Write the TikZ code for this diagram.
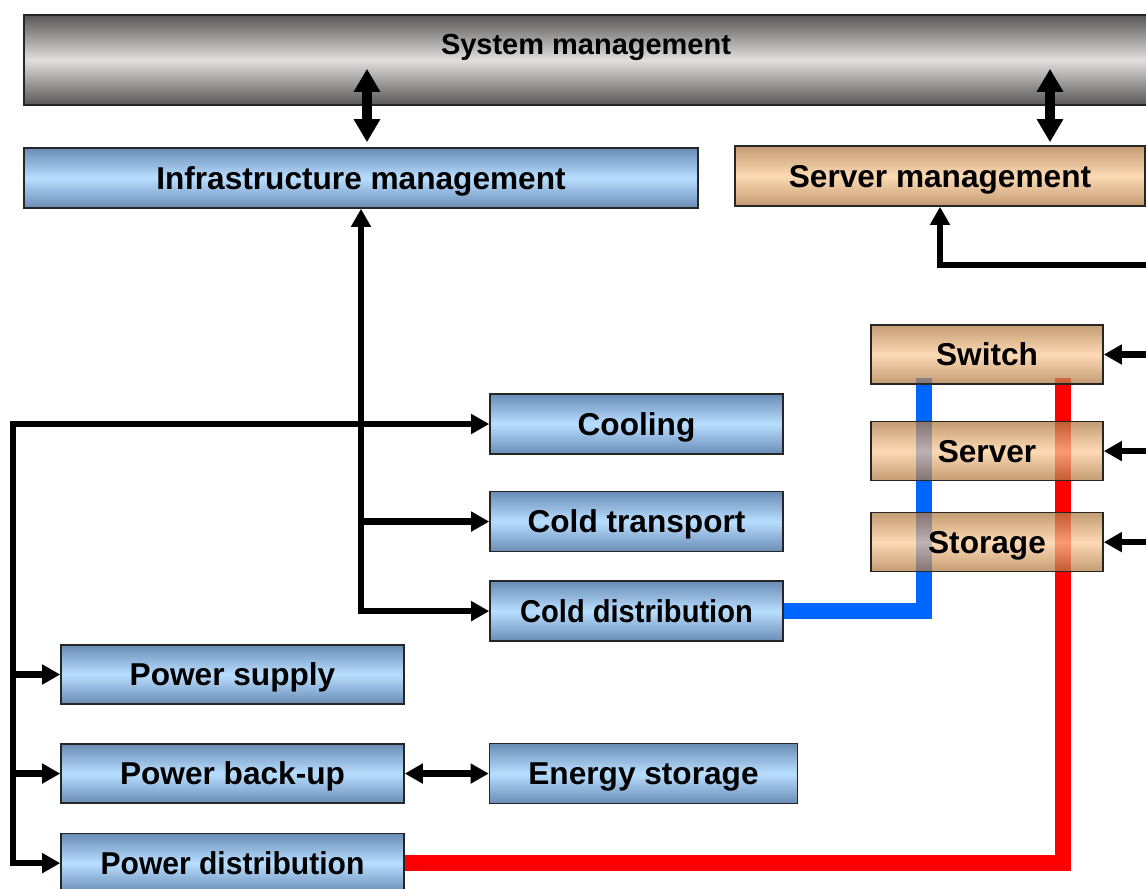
\documentclass[tikz,border=0pt]{standalone}
\usepackage{fontspec}
\setmainfont{Liberation Sans}
\usetikzlibrary{arrows.meta, positioning, calc}
\pgfdeclarelayer{back}
\pgfsetlayers{back,main}
\definecolor{blueedge}{RGB}{105,140,182}
\definecolor{bluemid}{RGB}{184,222,255}
\definecolor{tanedge}{RGB}{196,154,114}
\definecolor{tanmid}{RGB}{252,218,180}
\definecolor{rackedge}{RGB}{176,122,68}
\definecolor{rackmid}{RGB}{251,205,155}
\definecolor{grayedge}{RGB}{88,86,86}
\definecolor{graymid}{RGB}{226,222,222}
\definecolor{coldblue}{RGB}{0,102,255}
\definecolor{hotred}{RGB}{255,0,0}

\begin{document}
\begin{tikzpicture}[
    x=0.02cm, y=-0.02cm,
    every node/.style={font=\fontsize{18}{21}\selectfont\bfseries},
    box/.style={
        rectangle,
        draw=black!85,
        line width=0.9pt,
        inner sep=0pt,
        text height=12.9pt,
        text depth=0pt,
        minimum height=1.2cm
    },
    sysbar/.style={
        box,
        minimum width=22.48cm,
        minimum height=1.8cm,
        text height=0.3cm,
        text depth=0.52cm,
        font=\fontsize{16.5}{19}\selectfont\bfseries,
        top color=grayedge, bottom color=grayedge, middle color=graymid
    },
    bluebox/.style={
        box,
        top color=blueedge, bottom color=blueedge, middle color=bluemid
    },
    tanbox/.style={
        box,
        top color=tanedge, bottom color=tanedge, middle color=tanmid
    },
    rack/.style={
        box,
        minimum width=4.64cm,
        minimum height=1.18cm,
        top color=rackedge, bottom color=rackedge, middle color=rackmid,
        fill opacity=0.75,
        text opacity=1
    },
    arrow/.style={
        line width=0.13cm,
        -{Triangle[length=0.36cm, width=0.38cm]}
    },
    twoway/.style={
        line width=0.13cm,
        {Triangle[length=0.36cm, width=0.38cm]}-{Triangle[length=0.36cm, width=0.38cm]}
    },
    bigarrow/.style={
        line width=0.19cm,
        {Triangle[length=0.46cm, width=0.5cm]}-{Triangle[length=0.46cm, width=0.5cm]}
    },
    coldline/.style={line width=0.32cm, draw=coldblue},
    powerline/.style={line width=0.32cm, draw=hotred}
]

\useasboundingbox (0,0) rectangle (1146,889);
\clip (0,0) rectangle (1146,889);

% Management
\node (sys) [sysbar] at (586,60) {System management};
\node (infra) [bluebox, minimum width=13.48cm] at (361,178) {Infrastructure management};
\node (srvmgmt) [tanbox, minimum width=8.2cm] at (940,176) {Server management};

% IT equipment
\node (switch) [rack] at (987,354.5) {Switch};
\node (server) [rack, below=0.72cm of switch] {Server};
\node (storage) [rack, below=0.61cm of server] {Storage};

% Cold chain
\node (cooling) [bluebox, minimum width=5.86cm] at (636.5,424) {Cooling};
\node (coldtr) [bluebox, minimum width=5.86cm, below=0.72cm of cooling] {Cold transport};
\node (colddist) [bluebox, minimum width=5.86cm, below=0.56cm of coldtr] {\scalebox{0.92}[1]{Cold distribution}};

% Power chain
\node (psupply) [bluebox, minimum width=6.86cm, minimum height=1.18cm] at (232.5,674.5) {Power supply};
\node (pbackup) [bluebox, minimum width=6.86cm, minimum height=1.18cm, below=0.77cm of psupply] {Power back-up};
\node (pdist) [bluebox, minimum width=6.86cm, minimum height=1.18cm, below=0.58cm of pbackup] {\scalebox{0.95}[1]{Power distribution}};
\node (energy) [bluebox, minimum width=6.16cm, right=1.68cm of pbackup] {Energy storage};

% Arrows - to system management
\draw [bigarrow] ($(infra.north)+(6,-5)$) -- ($(infra.north |- sys.south)+(6,-37)$);
\draw [bigarrow] ($(srvmgmt.north)+(110,-3)$) -- ($(srvmgmt.north |- sys.south)+(110,-37)$);

% Arrows - IT side, coming in from the right
\coordinate (itbus) at (1170,265);
\draw [arrow] (itbus) -| (srvmgmt.south);
\foreach \n in {switch,server,storage}
    \draw [arrow] (\n.east -| itbus) -- (\n.east);

% Arrows - infrastructure management
\draw [twoway] (colddist.west) -| (infra.south);
\draw [arrow] (infra.south |- coldtr.west) -- (coldtr.west);

% Arrows - left bus
\coordinate (pbus) at (13,424);
\draw [twoway] (cooling.west) -- (pbus) |- (pdist.west);
\draw [arrow] (pbus |- psupply.west) -- (psupply.west);
\draw [arrow] (pbus |- pbackup.west) -- (pbackup.west);
\draw [twoway] (pbackup.east) -- (energy.west);

% Cold and power feeds, behind the racks
\begin{pgfonlayer}{back}
\draw [coldline] (colddist.east) -| ($(switch.south west)+(54,-7)$);
\draw [powerline] (pdist.east) -| ($(switch.south east)+(-41,-7)$);
\end{pgfonlayer}

\end{tikzpicture}
\end{document}
